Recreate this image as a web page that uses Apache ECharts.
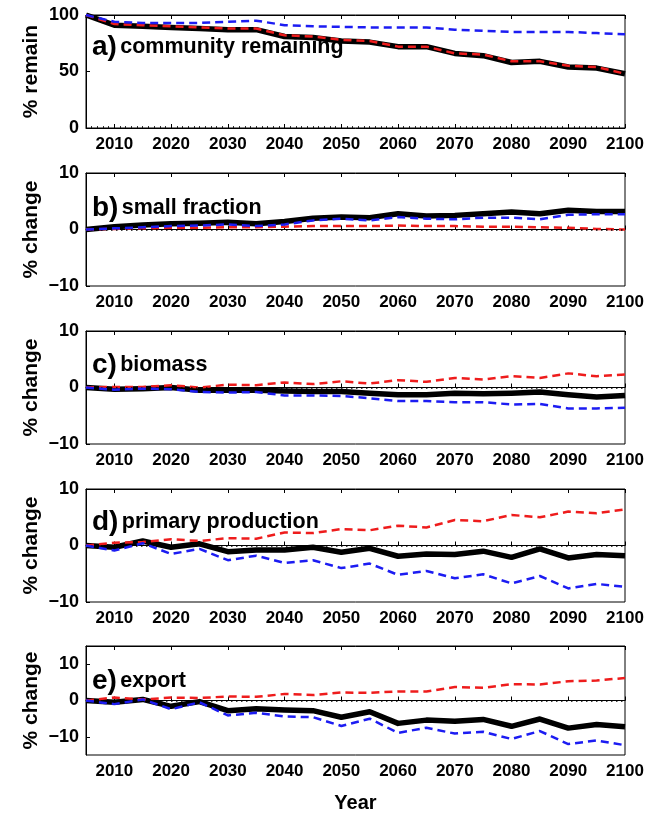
<!DOCTYPE html>
<html>
<head>
<meta charset="utf-8">
<script src="https://cdn.jsdelivr.net/npm/echarts@6/dist/echarts.min.js"></script>
<style>
html,body{margin:0;padding:0;background:#fff;}
#chart{width:661px;height:814px;}
</style>
</head>
<body>
<div id="chart"></div>
<script>
// ---- data ----
const years = [2005,2010,2015,2020,2025,2030,2035,2040,2045,2050,2055,2060,2065,2070,2075,2080,2085,2090,2095,2100];
const decadeTicks = [2010,2020,2030,2040,2050,2060,2070,2080,2090,2100];

const panelLabels = ['a)', 'b)', 'c)', 'd)', 'e)'];
const panelNames = ['community remaining', 'small fraction', 'biomass', 'primary production', 'export'];
const yNames = ['% remain', '% change', '% change', '% change', '% change'];
const xName = 'Year';

// a) community remaining
const aBlack = [100,91,90,89,88,87,87,81,80,77,76,72,72,66,64,58,59,54,53,48];
const aRed   = [100,92,91,90,89,88,88,82,81,78,77,72,72,66,65,59,59,55,54,48];
const aBlue  = [100,94,93,93,93,94,95,91,90,89.5,89,89,89,87,86,85,85,85,84,83];
// b) small fraction
const bBlack = [0,0.5,0.8,1.0,1.1,1.3,1.0,1.4,2.0,2.2,2.1,2.8,2.4,2.5,2.8,3.1,2.8,3.4,3.2,3.2];
const bRed   = [0,0.1,0.2,0.3,0.3,0.4,0.4,0.5,0.6,0.6,0.6,0.7,0.6,0.6,0.5,0.5,0.4,0.3,0.1,0.0];
const bBlue  = [0,0.2,0.4,0.6,0.7,0.9,0.6,0.9,1.6,1.9,1.6,2.2,1.9,1.8,2.1,2.1,1.8,2.6,2.7,2.7];
// c) biomass
const cBlack = [0,-0.3,-0.2,0,-0.5,-0.5,-0.5,-0.6,-0.7,-0.7,-1.0,-1.3,-1.3,-1.0,-1.1,-1.0,-0.8,-1.3,-1.7,-1.4];
const cRed   = [0,0.1,0.1,0.4,0,0.5,0.4,0.9,0.6,1.1,0.7,1.3,1.0,1.7,1.4,2.0,1.7,2.5,2.0,2.3];
const cBlue  = [0,-0.4,-0.2,-0.3,-0.8,-0.9,-0.8,-1.4,-1.4,-1.5,-1.9,-2.4,-2.4,-2.6,-2.6,-3.0,-2.9,-3.7,-3.7,-3.6];
// d) primary production
const dBlack = [0,-0.3,0.8,-0.3,0.3,-1.1,-0.8,-0.8,-0.3,-1.2,-0.5,-1.9,-1.5,-1.6,-1.0,-2.1,-0.6,-2.2,-1.6,-1.8];
const dRed   = [0,0.5,0.6,1.1,0.8,1.3,1.2,2.3,2.2,2.9,2.7,3.5,3.2,4.5,4.3,5.4,5.0,6.0,5.7,6.4];
const dBlue  = [0,-0.9,0.4,-1.5,-0.6,-2.6,-1.8,-3.1,-2.6,-4.0,-3.2,-5.2,-4.5,-5.8,-5.1,-6.7,-5.4,-7.6,-6.8,-7.3];
// e) export
const eBlack = [0,-0.5,0.3,-1.6,-0.3,-2.8,-2.3,-2.6,-2.8,-4.6,-3.1,-6.3,-5.4,-5.7,-5.2,-7.1,-5.1,-7.6,-6.6,-7.2];
const eRed   = [0,0.8,0.3,0.8,0.7,1.1,1.0,1.8,1.5,2.2,2.1,2.5,2.5,3.7,3.5,4.5,4.4,5.3,5.5,6.2];
const eBlue  = [0,-1.0,0.3,-2.4,-0.5,-4.1,-3.4,-4.4,-4.6,-7.0,-5.0,-8.9,-7.5,-9.1,-8.6,-10.6,-8.4,-12.0,-11.0,-12.3];

const yTicksA = [0,50,100];
const yTicksChange = [-10,0,10];

// ---- layout / style ----
const FONT = 'Liberation Sans';
const gridTops = [15,173,331,489,646];
const gridH = 113;
const gridLeft = 86, gridW = 539;
const labelCenters = [48,209,366,523,682];

const panels = [
  {black:aBlack, red:aRed, blue:aBlue, min:0, max:100, ticks:yTicksA, zero:false},
  {black:bBlack, red:bRed, blue:bBlue, min:-10, max:10, ticks:yTicksChange, zero:true},
  {black:cBlack, red:cRed, blue:cBlue, min:-10, max:10, ticks:yTicksChange, zero:true},
  {black:dBlack, red:dRed, blue:dBlue, min:-10, max:10, ticks:yTicksChange, zero:true},
  {black:eBlack, red:eRed, blue:eBlue, min:-15, max:15, ticks:yTicksChange, zero:true}
];

const pair = arr => years.map((y,i)=>[y, arr[i]]);
const fmtNum = v => String(v).replace('-', '\u2212');
const fmtYear = v => String(v);

const grids = [], xAxes = [], yAxes = [], series = [], graphics = [];

panels.forEach((p, i) => {
  grids.push({left:gridLeft, top:gridTops[i], width:gridW, height:gridH, show:true, borderColor:'#000', borderWidth:1, backgroundColor:'transparent'});
  const bottomIdx = xAxes.length;
  xAxes.push({
    type:'value', gridIndex:i, position:'bottom', min:2005, max:2100,
    axisLine:{show:true, lineStyle:{color:'#000', width:1}},
    axisTick:{show:true, inside:true, length:4, customValues:decadeTicks, lineStyle:{color:'#000'}},
    axisLabel:{show:true, customValues:decadeTicks, margin:8, color:'#000', fontFamily:FONT, fontWeight:'bold', fontSize:17, formatter:fmtYear},
    splitLine:{show:false},
    name: i === 4 ? xName : '', nameLocation:'middle', nameGap:38,
    nameTextStyle:{color:'#000', fontFamily:FONT, fontWeight:'bold', fontSize:20}
  });
  xAxes.push({
    type:'value', gridIndex:i, position:'top', min:2005, max:2100,
    axisLine:{show:true, lineStyle:{color:'#000', width:1}},
    axisTick:{show:true, inside:true, length:4, customValues:decadeTicks, lineStyle:{color:'#000'}},
    axisLabel:{show:false}, splitLine:{show:false}
  });
  if (i === 0) {
    xAxes.push({
      type:'value', gridIndex:i, position:'bottom', min:2005, max:2100, interval:1,
      axisLine:{show:false},
      axisTick:{show:true, inside:true, length:2, lineStyle:{color:'#000', width:0.8}},
      axisLabel:{show:false}, splitLine:{show:false}
    });
  }
  const yIdx = yAxes.length;
  yAxes.push({
    type:'value', gridIndex:i, min:p.min, max:p.max,
    axisLine:{show:true, lineStyle:{color:'#000', width:1}},
    axisTick:{show:true, inside:true, length:4, customValues:p.ticks, lineStyle:{color:'#000'}},
    axisLabel:{show:true, customValues:p.ticks, margin:7, color:'#000', fontFamily:FONT, fontWeight:'bold', fontSize:18, formatter:fmtNum},
    splitLine:{show:false},
    name: yNames[i], nameLocation:'middle', nameGap:44, nameRotate:90, nameMoveOverlap:false,
    nameTextStyle:{color:'#000', fontFamily:FONT, fontWeight:'bold', fontSize:21}
  });
  const common = {type:'line', xAxisIndex:bottomIdx, yAxisIndex:yIdx, symbol:'none', animation:false, silent:true};
  series.push(Object.assign({}, common, {
    name:'black'+i, data:pair(p.black), z:3,
    lineStyle:{color:'#000', width:5.5, join:'round'},
    markLine: p.zero ? {silent:true, symbol:'none', label:{show:false}, animation:false,
      lineStyle:{color:'#000', type:[1.5,3.5], width:1.5}, data:[{yAxis:0}]} : undefined
  }));
  series.push(Object.assign({}, common, {
    name:'red'+i, data:pair(p.red), z:4,
    lineStyle:{color:'#ee1c1c', width:2.5, type:[8,5]}
  }));
  series.push(Object.assign({}, common, {
    name:'blue'+i, data:pair(p.blue), z:5,
    lineStyle:{color:'#1c1cf2', width:2.5, type:[8,5]}
  }));
  graphics.push({
    type:'text', left:92, top:labelCenters[i]-15, z:100,
    style:{
      text:'{a|' + panelLabels[i] + '} {b|' + panelNames[i] + '}',
      rich:{
        a:{fontFamily:FONT, fontWeight:'bold', fontSize:28, fill:'#000', verticalAlign:'middle'},
        b:{fontFamily:FONT, fontWeight:'bold', fontSize:21.5, fill:'#000', verticalAlign:'middle'}
      }
    }
  });
});

const chart = echarts.init(document.getElementById('chart'), null, {renderer:'canvas'});
chart.setOption({
  backgroundColor:'#fff',
  animation:false,
  grid:grids, xAxis:xAxes, yAxis:yAxes, series:series, graphic:graphics
});
</script>
</body>
</html>
